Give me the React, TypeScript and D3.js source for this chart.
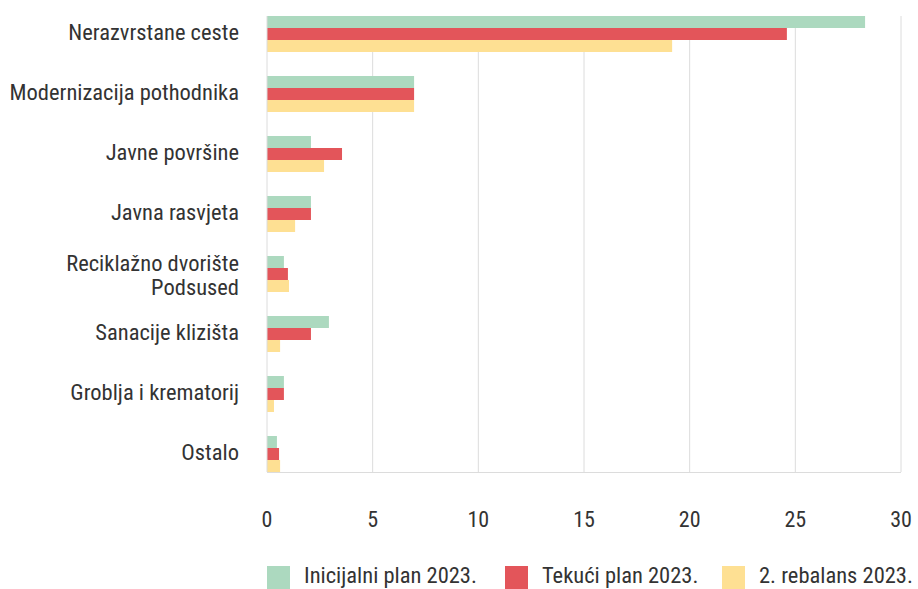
import React, { useEffect, useRef } from "react";
import * as d3 from "d3";

const categories = [
  "Nerazvrstane ceste",
  "Modernizacija pothodnika",
  "Javne površine",
  "Javna rasvjeta",
  "Reciklažno dvorište Podsused",
  "Sanacije klizišta",
  "Groblja i krematorij",
  "Ostalo",
];
const seriesNames = ["Inicijalni plan 2023.", "Tekući plan 2023.", "2. rebalans 2023."];
const inicijalni = [28.3, 6.96, 2.08, 2.08, 0.8, 2.93, 0.8, 0.47];
const tekuci = [24.6, 6.96, 3.55, 2.08, 0.99, 2.08, 0.8, 0.57];
const rebalans = [19.17, 6.96, 2.7, 1.33, 1.04, 0.62, 0.33, 0.62];
const xTicks = [0, 5, 10, 15, 20, 25, 30];
const colors = ["#acd9bf", "#e3555a", "#fee093"];

const W = 918,
  H = 589;
const FONT = "'Liberation Sans Narrow', 'Roboto Condensed', Roboto, sans-serif";

export default function App() {
  const ref = useRef<SVGSVGElement>(null);

  useEffect(() => {
    const svg = d3.select(ref.current);
    svg.selectAll("*").remove();

    const x = d3.scaleLinear().domain([0, 30]).range([267, 901]);
    const y = d3
      .scaleBand()
      .domain(categories)
      .range([4, 484])
      .paddingInner(0.4)
      .paddingOuter(0.2);
    const inner = d3
      .scaleBand()
      .domain(seriesNames)
      .range([0, y.bandwidth()]);

    const top = y(categories[0])!;
    const bottom = y(categories[categories.length - 1])! + y.bandwidth();

    // grid
    svg
      .append("g")
      .selectAll("line")
      .data(xTicks.slice(1))
      .join("line")
      .attr("x1", (d) => x(d))
      .attr("x2", (d) => x(d))
      .attr("y1", top)
      .attr("y2", bottom)
      .attr("stroke", "#dcdcdc")
      .attr("stroke-width", 1);

    svg
      .append("line")
      .attr("x1", x(0))
      .attr("x2", x(30))
      .attr("y1", bottom + 0.5)
      .attr("y2", bottom + 0.5)
      .attr("stroke", "#dcdcdc");

    const allSeries = [inicijalni, tekuci, rebalans];
    allSeries.forEach((vals, si) => {
      svg
        .append("g")
        .selectAll("rect")
        .data(vals)
        .join("rect")
        .attr("x", x(0))
        .attr("y", (d, i) => y(categories[i])! + inner(seriesNames[si])!)
        .attr("width", (d) => x(d) - x(0))
        .attr("height", inner.bandwidth())
        .attr("fill", colors[si]);
    });

    svg
      .append("line")
      .attr("x1", x(0))
      .attr("x2", x(0))
      .attr("y1", top)
      .attr("y2", bottom)
      .attr("stroke", "#dcdcdc");

    // category labels
    const labels = svg
      .append("g")
      .attr("font-family", FONT)
      .attr("font-size", 22.5)
      .attr("fill", "#333")
      .attr("text-anchor", "end");
    categories.forEach((c) => {
      const cy = y(c)! + y.bandwidth() / 2;
      if (c === "Reciklažno dvorište Podsused") {
        labels.append("text").attr("x", 239).attr("y", cy - 11).attr("dy", "0.35em").text("Reciklažno dvorište");
        labels.append("text").attr("x", 239).attr("y", cy + 13).attr("dy", "0.35em").text("Podsused");
      } else {
        labels.append("text").attr("x", 239).attr("y", cy - 2).attr("dy", "0.35em").text(c);
      }
    });

    // x ticks
    svg
      .append("g")
      .attr("font-family", FONT)
      .attr("font-size", 22)
      .attr("fill", "#333")
      .attr("text-anchor", "middle")
      .selectAll("text")
      .data(xTicks)
      .join("text")
      .attr("x", (d) => x(d))
      .attr("y", 519)
      .attr("dy", "0.35em")
      .text((d) => d);

    // legend
    const legendX = [267, 505, 722];
    const lg = svg.append("g").attr("font-family", FONT).attr("font-size", 22.5).attr("fill", "#333");
    seriesNames.forEach((s, i) => {
      lg.append("rect")
        .attr("x", legendX[i])
        .attr("y", 566)
        .attr("width", 23)
        .attr("height", 23)
        .attr("fill", colors[i]);
      lg.append("text")
        .attr("x", legendX[i] + 37)
        .attr("y", 575)
        .attr("dy", "0.35em")
        .text(s);
    });
  }, []);

  return (
    <div style={{ position: "absolute", left: 0, top: 0 }}>
      <svg ref={ref} width={W} height={H} style={{ display: "block", background: "#fff" }} />
    </div>
  );
}
